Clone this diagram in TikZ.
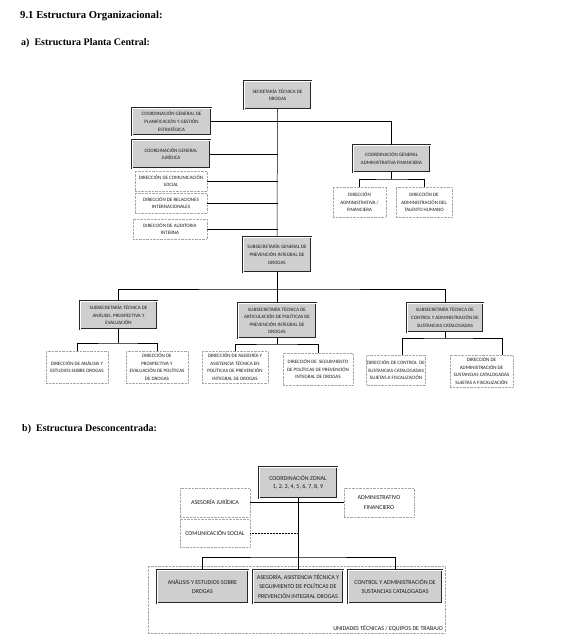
\documentclass[tikz,border=0pt]{standalone}
\usepackage{fontspec}
\setmainfont{Liberation Serif}
\newfontfamily\boxfont{Carlito}
\begin{document}
\begin{tikzpicture}[x=1pt,y=-1pt,
  base/.style={rectangle, align=center, inner sep=0.5pt, text=black!90, font=\boxfont\fontsize{5}{7.6}\selectfont},
  shaded/.style={base, fill=gray!38, draw=black!85, line width=0.45pt, double=white, double distance=0.5pt},
  plain/.style={base, fill=white, draw=gray!70, densely dotted, line width=0.4pt},
  bigtext/.style={font=\boxfont\fontsize{6}{9.2}\selectfont},
  conn/.style={draw=black, line width=0.5pt},
  head/.style={anchor=base west, inner sep=0pt, font=\bfseries\fontsize{10}{12}\selectfont}]
\useasboundingbox (0,0) rectangle (567,642);
\fill[white] (0,0) rectangle (567,642);

% headings
\node[head, font=\bfseries\fontsize{10.7}{12}\selectfont] (h1) at (20,19) {9.1 Estructura Organizacional:};
\node[head] (h2) at (21,46) {a)\ \ Estructura Planta Central:};
\node[head] (h3) at (22,431) {b)\ \ Estructura Desconcentrada:};

% top chart
\node[shaded, minimum width=67pt, minimum height=28pt] (sec) at (277.5,95) {SECRETARÍA TÉCNICA DE\\DROGAS};
\node[shaded, minimum width=79pt, minimum height=27pt] (planif) at (171.5,121.5) {COORDINACIÓN GENERAL DE\\PLANIFICACIÓN Y GESTIÓN\\ESTRATÉGICA};
\node[shaded, minimum width=78pt, minimum height=28pt] (juri) at (171,154) {COORDINACIÓN GENERAL\\JURÍDICA};
\node[plain, minimum width=72pt, minimum height=20pt] (comsoc) at (171,181) {DIRECCIÓN DE COMUNICACIÓN\\SOCIAL};
\node[plain, minimum width=72pt, minimum height=20pt] (relint) at (171,203) {DIRECCIÓN DE RELACIONES\\INTERNACIONALES};
\node[plain, minimum width=74pt, minimum height=20pt] (audit) at (170,229) {DIRECCIÓN DE AUDITORIA\\INTERNA};
\node[shaded, minimum width=77pt, minimum height=27pt] (admfin) at (391.5,158.5) {COORDINACIÓN GENERAL\\ADMINISTRATIVA FINANCIERA};
\node[plain, minimum width=53pt, minimum height=30pt] (diradm) at (359.5,202) {DIRECCIÓN\\ADMINISTRATIVA /\\FINANCIERA};
\node[plain, minimum width=56pt, minimum height=30pt] (dirtal) at (424,202) {DIRECCIÓN DE\\ADMINISTRACIÓN DEL\\TALENTO HUMANO};
\node[shaded, minimum width=68pt, minimum height=35pt] (subgen) at (277,254.5) {SUBSECRETARÍA GENERAL DE\\PREVENCIÓN INTEGRAL DE\\DROGAS};
\node[shaded, minimum width=77pt, minimum height=28pt] (subanal) at (118.5,315) {SUBSECRETARÍA TÉCNICA DE\\ANÁLISIS, PROSPECTIVA Y\\EVALUACIÓN};
\node[shaded, minimum width=78pt, minimum height=35pt] (subart) at (277,320.5) {SUBSECRETARÍA TÉCNICA DE\\ARTICULACIÓN DE POLÍTICAS DE\\PREVENCIÓN INTEGRAL DE\\DROGAS};
\node[shaded, minimum width=76pt, minimum height=29pt] (subctrl) at (445,317.5) {SUBSECRETARÍA TÉCNICA DE\\CONTROL Y ADMINISTRACIÓN DE\\SUSTANCIAS CATALOGADAS};
\node[plain, minimum width=62pt, minimum height=32pt] (danal) at (77,367) {DIRECCIÓN DE ANÁLISIS Y\\ESTUDIOS SOBRE DROGAS};
\node[plain, minimum width=62pt, minimum height=32pt] (dprosp) at (157,367) {DIRECCIÓN DE\\PROSPECTIVA Y\\EVALUACIÓN DE POLÍTICAS\\DE DROGAS};
\node[plain, minimum width=66pt, minimum height=32pt] (dases) at (235,367) {DIRECCIÓN DE ASESORÍA Y\\ASISTENCIA TÉCNICA EN\\POLÍTICAS DE PREVENCIÓN\\INTEGRAL DE DROGAS};
\node[plain, minimum width=70pt, minimum height=32pt] (dseg) at (318,369) {DIRECCIÓN DE\ \ SEGUIMIENTO\\DE POLÍTICAS DE PREVENCIÓN\\INTEGRAL DE DROGAS};
\node[plain, minimum width=58pt, minimum height=30pt] (dctrl) at (396,370) {DIRECCIÓN DE CONTROL\ \ DE\\SUSTANCIAS CATALOGADAS\\SUJETAS A FISCALIZACIÓN};
\node[plain, minimum width=63pt, minimum height=32pt] (dadmsus) at (481.5,371) {DIRECCIÓN DE\\ADMINISTRACIÓN DE\\SUSTANCIAS CATALOGADAS\\SUJETAS A FISCALIZACIÓN};

% top connectors
\coordinate (j1) at (391.5,179);
\coordinate (j2) at (277,289);
\coordinate (j3) at (118.5,343);
\coordinate (j4) at (277,344);
\coordinate (j5) at (445,338);
\draw[conn] (sec.south) -- (subgen.north);
\draw[conn] (planif.east) -| (admfin.north);
\draw[conn] (juri.east) -- (juri.east -| sec.south);
\draw[conn] (comsoc.east) -- (comsoc.east -| sec.south);
\draw[conn] (relint.east) -- (relint.east -| sec.south);
\draw[conn] (audit.east) -- (audit.east -| sec.south);
\draw[conn] (admfin.south) -- (j1);
\draw[conn] (diradm.north) |- (j1) -| (dirtal.north);
\draw[conn] (subgen.south) -- (subart.north);
\draw[conn] (subanal.north) |- (j2) -| (subctrl.north);
\draw[conn] (subanal.south) -- (j3);
\draw[conn] (danal.north) |- (j3) -| (dprosp.north);
\draw[conn] (subart.south) -- (j4);
\draw[conn] (dases.north) |- (j4) -| (dseg.north);
\draw[conn] (subctrl.south) -- (j5);
\draw[conn] ([xshift=6pt]dctrl.north) |- (j5) -| ([xshift=20.5pt]dadmsus.north);

% bottom chart
\node[shaded, bigtext, font=\boxfont\fontsize{6}{8.6}\selectfont, minimum width=78pt, minimum height=31pt] (zonal) at (298,482.5) {COORDINACIÓN ZONAL\\1, 2, 3, 4, 5, 6, 7, 8, 9};
\node[plain, bigtext, minimum width=70pt, minimum height=29pt] (asesjur) at (215,502.5) {ASESORÍA JURÍDICA};
\node[plain, bigtext, minimum width=70pt, minimum height=29pt] (admfin2) at (379,502.5) {ADMINISTRATIVO\\FINANCIERO};
\node[plain, bigtext, minimum width=70pt, minimum height=28pt] (comsoc2) at (215,533) {COMUNICACIÓN SOCIAL};
\node[plain, minimum width=297pt, minimum height=67pt] (cont) at (296.5,599.5) {};
\node[anchor=base east, inner sep=0pt, bigtext, text=black!90] (ulabel) at (443,630) {UNIDADES TÉCNICAS / EQUIPOS DE TRABAJO};
\node[shaded, bigtext, minimum width=91pt, minimum height=33pt] (u1) at (202.5,586.5) {ANÁLISIS Y ESTUDIOS SOBRE\\DROGAS};
\node[shaded, bigtext, minimum width=90pt, minimum height=33pt] (u2) at (298,586.5) {ASESORÍA, ASISTENCIA TÉCNICA Y\\SEGUIMIENTO DE POLÍTICAS DE\\PREVENCIÓN INTEGRAL DROGAS};
\node[shaded, bigtext, minimum width=94pt, minimum height=33pt] (u3) at (395,586.5) {CONTROL Y ADMINISTRACIÓN DE\\SUSTANCIAS CATALOGADAS};

\coordinate (j6) at (298,557);
\draw[conn] (asesjur.east) -- (admfin2.west);
\draw[conn, line width=0.9pt] (zonal.south) -- (u2.north);
\draw[conn, densely dotted] (comsoc2.east) -- (comsoc2.east -| zonal.south);
\draw[conn] (u1.north) |- (j6) -| (u3.north);
\end{tikzpicture}
\end{document}
